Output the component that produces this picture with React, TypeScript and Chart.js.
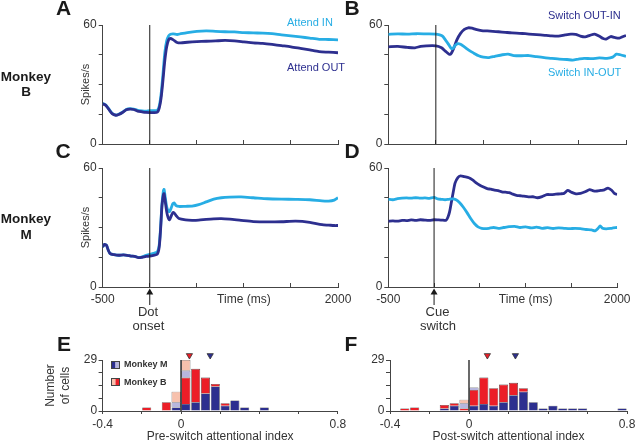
import React, { useEffect, useRef } from 'react';
import { Chart, registerables } from 'chart.js';

Chart.register(...registerables);

const FONT = '"Liberation Sans", Arial, Helvetica, sans-serif';
Chart.defaults.font.family = FONT;
Chart.defaults.color = '#333';

const LIGHT = '#27ade4';
const DARK = '#2d2f8f';
const RED = '#ec1e27';
const PINK = '#f7c1ad';
const LAVENDER = '#b7b6dd';
const AXIS = '#444';
const INK = '#1a1a1a';

// ---------- tick values / labels ----------
const timeTickValues = [-500, 0, 500, 1000, 1500, 2000];
const timeTickLabelsBottom = ['-500', '', '', 'Time (ms)', '', '2000'];
const timeTickLabelsNone = ['', '', '', '', '', ''];
const rateTickValues = [0, 15, 30, 45, 60];
const rateTickLabels = ['0', '', '', '', '60'];
const countTickValues = [0, 7.25, 14.5, 21.75, 29];
const countTickLabels = ['0', '', '', '', '29'];
const indexTickValues = [-0.4, -0.2, 0, 0.2, 0.4, 0.6, 0.8];
const indexTickLabels = ['-0.4', '', '0', '', '', '', '0.8'];

// ---------- Panel A : Monkey B, attend IN / OUT ----------
const tA = [-500, -470, -440, -400, -360, -330, -290, -250, -210, -170, -130, -80, -40, 0, 40, 80, 100, 120, 140, 160, 180, 200, 220, 250, 290, 330, 400, 500, 600, 700, 800, 900, 1000, 1100, 1200, 1300, 1400, 1500, 1600, 1700, 1800, 1900, 2000];
const attendInB = [20.5, 19.8, 18.0, 15.5, 14.6, 15.0, 16.0, 17.4, 17.8, 17.6, 17.0, 16.7, 16.6, 16.8, 16.8, 17.0, 19.0, 25.0, 35.0, 46.0, 52.0, 54.5, 55.3, 55.5, 55.2, 55.6, 56.2, 56.8, 57.0, 56.8, 56.6, 56.5, 56.2, 56.0, 55.9, 55.6, 55.0, 54.5, 54.0, 53.4, 52.8, 52.7, 52.5];
const attendOutB = [20.3, 19.6, 17.8, 15.3, 14.5, 14.9, 15.9, 17.3, 17.6, 17.4, 16.6, 16.2, 15.9, 15.8, 15.8, 16.0, 18.0, 23.0, 32.0, 42.0, 49.0, 52.5, 53.2, 52.5, 51.2, 51.0, 51.3, 51.6, 51.8, 52.0, 52.2, 52.0, 51.5, 51.0, 50.7, 50.2, 49.6, 49.0, 48.2, 47.4, 46.6, 46.3, 46.0];

// ---------- Panel B : Monkey B, switch ----------
const tB_inOut = [-500, -400, -300, -200, -100, 0, 40, 70, 100, 130, 160, 180, 200, 230, 260, 300, 350, 400, 450, 500, 560, 620, 700, 760, 820, 900, 980, 1060, 1140, 1220, 1300, 1380, 1440, 1500, 1560, 1640, 1720, 1800, 1860, 1900, 1940, 2000];
const switchInOutB = [55.3, 55.5, 55.4, 55.6, 55.5, 55.4, 55.0, 54.4, 52.5, 50.5, 48.3, 48.2, 49.5, 50.6, 50.3, 49.0, 47.2, 45.8, 44.5, 43.8, 43.6, 44.2, 45.0, 45.3, 44.6, 44.5, 44.6, 44.0, 43.5, 43.2, 42.8, 42.6, 42.3, 42.8, 43.2, 43.0, 43.4, 43.2, 43.8, 45.3, 45.0, 44.2];
const tB_outIn = [-500, -400, -300, -220, -160, -100, 0, 60, 100, 140, 160, 190, 220, 260, 300, 340, 380, 420, 480, 540, 600, 660, 730, 800, 880, 940, 1020, 1100, 1160, 1220, 1290, 1360, 1420, 1470, 1520, 1570, 1620, 1670, 1720, 1760, 1790, 1840, 1880, 1930, 1970, 2000];
const switchOutInB = [49.0, 49.2, 48.7, 48.5, 49.2, 49.5, 49.5, 48.5, 46.8, 45.3, 45.5, 48.5, 52.4, 55.8, 57.8, 58.6, 58.4, 57.8, 57.2, 57.0, 56.8, 56.6, 56.3, 56.0, 55.8, 55.6, 55.3, 55.0, 54.8, 54.5, 54.4, 55.0, 55.4, 55.3, 54.4, 54.0, 54.8, 55.4, 54.3, 53.2, 52.9, 54.2, 53.7, 53.4, 54.2, 54.7];

// ---------- Panel C : Monkey M, attend IN / OUT ----------
const tC = [-500, -480, -460, -440, -420, -380, -330, -280, -240, -200, -160, -120, -80, -40, 0, 40, 80, 100, 115, 130, 145, 152, 165, 180, 195, 210, 225, 245, 260, 280, 310, 380, 450, 520, 600, 680, 760, 850, 970, 1100, 1250, 1400, 1550, 1700, 1830, 1900, 1960, 2000];
const attendInM = [20.2, 21.5, 21.0, 18.5, 16.8, 16.3, 16.0, 16.2, 16.0, 15.6, 15.5, 14.9, 15.2, 16.0, 16.5, 17.0, 17.8, 21.0, 30.0, 42.0, 48.5, 49.2, 45.0, 40.5, 38.5, 38.0, 39.5, 42.0, 42.4, 41.0, 40.6, 40.7, 40.8, 41.5, 42.9, 44.3, 45.0, 45.3, 45.4, 45.0, 44.5, 44.3, 44.2, 44.0, 43.4, 43.3, 43.8, 45.0];
const attendOutM = [20.2, 21.5, 21.0, 18.5, 16.8, 16.3, 16.0, 16.2, 16.0, 15.6, 15.5, 14.8, 15.0, 15.4, 15.6, 16.0, 16.5, 20.0, 29.0, 41.0, 46.5, 47.1, 43.0, 38.0, 35.0, 33.8, 35.5, 37.5, 37.3, 36.0, 34.5, 33.8, 33.6, 33.7, 34.1, 34.4, 34.5, 34.2, 33.6, 33.0, 32.8, 32.9, 33.2, 32.6, 31.4, 31.2, 31.0, 31.0];

// ---------- Panel D : Monkey M, switch ----------
const tD_inOut = [-500, -450, -400, -350, -300, -250, -200, -150, -100, -50, 0, 40, 80, 120, 160, 200, 240, 280, 320, 360, 400, 440, 480, 520, 560, 600, 650, 700, 760, 820, 880, 940, 1000, 1060, 1120, 1180, 1240, 1300, 1360, 1420, 1480, 1540, 1600, 1660, 1720, 1760, 1790, 1815, 1840, 1880, 1940, 2000];
const switchInOutM = [44.2, 44.0, 44.5, 44.8, 44.9, 44.8, 45.0, 44.8, 44.9, 44.7, 45.2, 44.4, 44.2, 44.0, 44.2, 44.4, 44.0, 42.5, 40.2, 37.5, 34.5, 32.0, 30.3, 29.6, 29.4, 29.6, 30.0, 29.6, 30.0, 30.4, 30.6, 30.0, 30.3, 29.8, 30.2, 29.6, 29.9, 29.5, 29.8, 29.6, 29.4, 29.6, 29.4, 29.0, 28.8, 28.3, 29.5, 30.8, 29.6, 29.3, 29.6, 30.0];
const tD_outIn = [-500, -450, -400, -350, -300, -250, -200, -150, -100, -50, 0, 50, 100, 130, 150, 170, 190, 210, 230, 260, 290, 330, 380, 420, 460, 500, 540, 580, 620, 660, 700, 740, 780, 820, 860, 900, 940, 980, 1030, 1080, 1130, 1180, 1230, 1280, 1330, 1380, 1420, 1460, 1500, 1550, 1600, 1650, 1700, 1740, 1780, 1820, 1860, 1900, 1940, 1970, 2000];
const switchOutInM = [33.1, 33.3, 33.2, 33.6, 33.5, 33.8, 33.6, 33.9, 33.7, 33.6, 33.9, 33.8, 33.7, 33.6, 35.0, 38.0, 43.0, 48.0, 52.5, 55.2, 56.0, 55.6, 55.1, 54.0, 52.5, 51.3, 50.4, 49.6, 49.3, 48.8, 48.6, 48.0, 47.8, 47.6, 46.8, 46.2, 46.0, 45.8, 45.4, 45.5, 45.0, 45.6, 46.6, 46.6, 46.8, 47.0, 47.2, 48.7, 47.8, 47.0, 47.2, 48.0, 49.1, 48.5, 48.4, 48.7, 49.0, 49.9, 48.8, 47.2, 46.6];

// ---------- Panel E : pre-switch attentional index histogram ----------
const binWidth = 0.05;
const binStartsE = [-0.2, -0.1, -0.05, 0, 0.05, 0.1, 0.15, 0.2, 0.25, 0.3, 0.4];
const mSigE = [0, 0, 2, 4, 5, 10, 14, 3, 6, 2, 2];
const bSigE = [2, 5, 0, 15, 19, 9, 1, 1, 0, 0, 0];
const mNonE = [0, 0, 3, 4, 0, 0, 0, 0, 0, 0, 0];
const bNonE = [0, 0, 6, 6, 0, 0, 0, 0, 0, 0, 0];
const meanBE = 0.043;
const meanME = 0.149;

// ---------- Panel F : post-switch attentional index histogram ----------
const binStartsF = [-0.35, -0.3, -0.15, -0.1, -0.05, 0, 0.05, 0.1, 0.15, 0.2, 0.25, 0.3, 0.35, 0.4, 0.45, 0.5, 0.55, 0.75];
const mSigF = [0, 0, 1, 3, 0, 3, 4, 3, 5, 9, 11, 5, 1, 3, 1, 1, 1, 1];
const bSigF = [1, 2, 2, 1, 1, 9, 15, 10, 10, 7, 2, 0, 0, 0, 0, 0, 0, 0];
const mNonF = [0, 0, 0, 0, 3, 1, 0, 0, 0, 0, 0, 0, 0, 0, 0, 0, 0, 0];
const bNonF = [0, 0, 0, 0, 2, 0, 0, 0, 0, 0, 0, 0, 0, 0, 0, 0, 0, 0];
const meanBF = 0.093;
const meanMF = 0.235;
const markerLevel = 31.6;

// ---------- annotation plugin ----------
type Item =
  | { kind: 'text'; text: string; x: number; y: number; size: number; bold?: boolean; color?: string; align?: CanvasTextAlign }
  | { kind: 'arrow'; value: number }
  | { kind: 'swatch'; x: number; y: number; w: number; h: number; left: string; right: string };

function annotations(items: Item[]) {
  return {
    id: 'annotations',
    afterDraw(chart: any) {
      const ctx: CanvasRenderingContext2D = chart.ctx;
      ctx.save();
      for (const it of items) {
        if (it.kind === 'text') {
          ctx.font = `${it.bold ? 'bold ' : ''}${it.size}px ${FONT}`;
          ctx.fillStyle = it.color || INK;
          ctx.textAlign = it.align || 'center';
          ctx.textBaseline = 'middle';
          ctx.fillText(it.text, it.x, it.y);
        } else if (it.kind === 'arrow') {
          const x = chart.scales.x.getPixelForValue(it.value);
          const y0 = chart.chartArea.bottom;
          ctx.strokeStyle = INK;
          ctx.lineWidth = 1;
          ctx.beginPath();
          ctx.moveTo(x, y0 + 6);
          ctx.lineTo(x, y0 + 18);
          ctx.stroke();
          ctx.fillStyle = INK;
          ctx.beginPath();
          ctx.moveTo(x, y0 + 1.5);
          ctx.lineTo(x - 3.5, y0 + 7.5);
          ctx.lineTo(x + 3.5, y0 + 7.5);
          ctx.closePath();
          ctx.fill();
        } else if (it.kind === 'swatch') {
          ctx.fillStyle = it.left;
          ctx.fillRect(it.x, it.y, it.w / 2, it.h);
          ctx.fillStyle = it.right;
          ctx.fillRect(it.x + it.w / 2, it.y, it.w / 2, it.h);
          ctx.strokeStyle = '#444';
          ctx.lineWidth = 1;
          ctx.strokeRect(it.x + 0.5, it.y + 0.5, it.w - 1, it.h - 1);
        }
      }
      ctx.restore();
    },
  };
}

// ---------- config builders ----------
type Series = { t: number[]; v: number[]; color: string };

function timeChart(p: {
  left: number; right: number; top: number; bottom: number;
  yTitle?: string; xLabels: string[]; series: Series[]; items: Item[];
}) {
  const YW = 30;
  const XH = 25;
  return {
    type: 'line',
    data: {
      datasets: [
        ...p.series.map((s) => ({
          data: s.t.map((t, i) => ({ x: t, y: s.v[i] })),
          borderColor: s.color,
          borderWidth: 2.8,
          pointRadius: 0,
          tension: 0.25,
          fill: false,
          order: 1,
        })),
        {
          data: [{ x: 0, y: 0 }, { x: 0, y: 60 }],
          borderColor: INK,
          borderWidth: 1,
          pointRadius: 0,
          fill: false,
          order: 0,
        },
      ],
    },
    options: {
      responsive: false,
      maintainAspectRatio: false,
      animation: false,
      devicePixelRatio: 1,
      events: [],
      layout: { padding: { left: p.left - YW, right: 640 - p.right, top: p.top, bottom: 441 - p.bottom - XH } },
      plugins: { legend: { display: false }, tooltip: { enabled: false } },
      scales: {
        x: {
          type: 'linear',
          min: -500,
          max: 2000,
          afterFit: (s: any) => { s.height = XH; },
          afterBuildTicks: (s: any) => { s.ticks = timeTickValues.map((v) => ({ value: v })); },
          ticks: {
            autoSkip: false, maxRotation: 0, minRotation: 0, padding: 9.5,
            font: { size: 12 }, color: '#333',
            callback: (_v: any, i: number) => p.xLabels[i],
          },
          grid: { display: true, drawOnChartArea: false, drawTicks: true, tickLength: -4, tickColor: AXIS, tickWidth: 1 },
          border: { display: true, color: AXIS, width: 1 },
        },
        y: {
          type: 'linear',
          min: 0,
          max: 60,
          afterFit: (s: any) => { s.width = YW; },
          afterBuildTicks: (s: any) => { s.ticks = rateTickValues.map((v) => ({ value: v })); },
          ticks: {
            autoSkip: false, padding: 2, font: { size: 12 }, color: '#333',
            callback: (_v: any, i: number) => rateTickLabels[i],
          },
          grid: { display: true, drawOnChartArea: false, drawTicks: true, tickLength: 4, tickColor: AXIS, tickWidth: 1 },
          border: { display: true, color: AXIS, width: 1 },
          title: {
            display: !!p.yTitle,
            text: p.yTitle || '',
            font: { size: 11 },
            color: '#333',
            padding: { top: 6.2, bottom: 0 },
          },
        },
      },
    },
    plugins: [annotations(p.items)],
  };
}

function histChart(p: {
  left: number; right: number; top: number; bottom: number; yw: number;
  yTitle?: string[]; xTitle: string;
  bins: number[]; mSig: number[]; bSig: number[]; mNon: number[]; bNon: number[];
  meanB: number; meanM: number; items: Item[];
}) {
  const XH = 30;
  const bars = (arr: number[], color: string) => ({
    type: 'bar',
    data: p.bins
      .map((b, i) => ({ x: b + binWidth / 2, y: arr[i] }))
      .filter((d) => d.y > 0),
    backgroundColor: color,
    borderColor: '#2b2b2b',
    borderWidth: { top: 0.6, left: 0.6, right: 0.6, bottom: 0 },
    borderSkipped: false,
    minBarLength: 2.5,
    barPercentage: 0.92,
    categoryPercentage: 1,
    order: 2,
  });
  const marker = (x: number, color: string, stack: string) => ({
    type: 'line',
    data: [{ x, y: markerLevel }],
    showLine: false,
    pointStyle: 'triangle',
    pointRotation: 180,
    pointRadius: 3.6,
    pointBackgroundColor: color,
    pointBorderColor: '#333',
    pointBorderWidth: 0.8,
    clip: false,
    stack,
    order: 0,
  });
  return {
    type: 'bar',
    data: {
      datasets: [
        bars(p.mSig, DARK),
        bars(p.bSig, RED),
        bars(p.mNon, LAVENDER),
        bars(p.bNon, PINK),
        {
          type: 'line',
          data: [{ x: 0, y: 0 }, { x: 0, y: 29 }],
          borderColor: INK,
          borderWidth: 1.3,
          pointRadius: 0,
          stack: 'zero',
          order: 0,
        },
        marker(p.meanB, RED, 'meanB'),
        marker(p.meanM, DARK, 'meanM'),
      ],
    },
    options: {
      responsive: false,
      maintainAspectRatio: false,
      animation: false,
      devicePixelRatio: 1,
      events: [],
      layout: { padding: { left: p.left - p.yw, right: 640 - p.right, top: p.top, bottom: 441 - p.bottom - XH } },
      plugins: { legend: { display: false }, tooltip: { enabled: false } },
      scales: {
        x: {
          type: 'linear',
          min: -0.4,
          max: 0.8,
          stacked: true,
          offset: false,
          afterFit: (s: any) => { s.height = XH; },
          afterBuildTicks: (s: any) => { s.ticks = indexTickValues.map((v) => ({ value: v })); },
          ticks: {
            autoSkip: false, maxRotation: 0, minRotation: 0, padding: 3.8,
            font: { size: 12 }, color: '#333',
            callback: (_v: any, i: number) => indexTickLabels[i],
          },
          grid: { display: true, offset: false, drawOnChartArea: false, drawTicks: true, tickLength: 3, tickColor: AXIS, tickWidth: 1 },
          border: { display: true, color: AXIS, width: 1 },
          title: {
            display: true,
            text: p.xTitle,
            font: { size: 12, lineHeight: 1 },
            color: '#333',
            padding: { top: 0, bottom: -1.5 },
          },
        },
        y: {
          type: 'linear',
          min: 0,
          max: 29,
          stacked: true,
          afterFit: (s: any) => { s.width = p.yw; },
          afterBuildTicks: (s: any) => { s.ticks = countTickValues.map((v) => ({ value: v })); },
          ticks: {
            autoSkip: false, padding: 1.5, font: { size: 12 }, color: '#333',
            callback: (_v: any, i: number) => countTickLabels[i],
          },
          grid: { display: true, drawOnChartArea: false, drawTicks: true, tickLength: 4, tickColor: AXIS, tickWidth: 1 },
          border: { display: true, color: AXIS, width: 1 },
          title: {
            display: !!p.yTitle,
            text: p.yTitle || '',
            font: { size: 12, lineHeight: 1.25 },
            color: '#333',
            padding: { top: 0.9, bottom: 0 },
          },
        },
      },
    },
    plugins: [annotations(p.items)],
  };
}

// ---------- panel configs ----------
const configA = () =>
  timeChart({
    left: 102.7, right: 338, top: 25, bottom: 144,
    yTitle: 'Spikes/s',
    xLabels: timeTickLabelsNone,
    series: [
      { t: tA, v: attendOutB, color: DARK },
      { t: tA, v: attendInB, color: LIGHT },
    ],
    items: [
      { kind: 'text', text: 'A', x: 63.5, y: 9.5, size: 21, bold: true },
      { kind: 'text', text: 'Monkey', x: 26, y: 77.2, size: 13.5, bold: true },
      { kind: 'text', text: 'B', x: 26, y: 92.5, size: 13.5, bold: true },
      { kind: 'text', text: 'Attend IN', x: 287, y: 22.5, size: 11, color: LIGHT, align: 'left' },
      { kind: 'text', text: 'Attend OUT', x: 287, y: 67.5, size: 11, color: DARK, align: 'left' },
    ],
  });

const configB = () =>
  timeChart({
    left: 388.3, right: 626, top: 25, bottom: 144,
    xLabels: timeTickLabelsNone,
    series: [
      { t: tB_inOut, v: switchInOutB, color: LIGHT },
      { t: tB_outIn, v: switchOutInB, color: DARK },
    ],
    items: [
      { kind: 'text', text: 'B', x: 352, y: 9.5, size: 21, bold: true },
      { kind: 'text', text: 'Switch OUT-IN', x: 548, y: 16.3, size: 11, color: DARK, align: 'left' },
      { kind: 'text', text: 'Switch IN-OUT', x: 548, y: 73, size: 11, color: LIGHT, align: 'left' },
    ],
  });

const configC = () =>
  timeChart({
    left: 102.7, right: 338, top: 168, bottom: 287,
    yTitle: 'Spikes/s',
    xLabels: timeTickLabelsBottom,
    series: [
      { t: tC, v: attendOutM, color: DARK },
      { t: tC, v: attendInM, color: LIGHT },
    ],
    items: [
      { kind: 'text', text: 'C', x: 63, y: 152.5, size: 21, bold: true },
      { kind: 'text', text: 'Monkey', x: 26, y: 219.5, size: 13.5, bold: true },
      { kind: 'text', text: 'M', x: 26, y: 235, size: 13.5, bold: true },
      { kind: 'arrow', value: 0 },
      { kind: 'text', text: 'Dot', x: 148, y: 312.5, size: 13, color: '#333' },
      { kind: 'text', text: 'onset', x: 148.5, y: 326, size: 13, color: '#333' },
    ],
  });

const configD = () =>
  timeChart({
    left: 388.3, right: 626, top: 168, bottom: 287,
    xLabels: timeTickLabelsBottom,
    series: [
      { t: tD_inOut, v: switchInOutM, color: LIGHT },
      { t: tD_outIn, v: switchOutInM, color: DARK },
    ],
    items: [
      { kind: 'text', text: 'D', x: 352, y: 152.5, size: 21, bold: true },
      { kind: 'arrow', value: 0 },
      { kind: 'text', text: 'Cue', x: 437.5, y: 312.5, size: 13, color: '#333' },
      { kind: 'text', text: 'switch', x: 438, y: 326, size: 13, color: '#333' },
    ],
  });

const configE = () =>
  histChart({
    left: 102.6, right: 337.8, top: 360, bottom: 411, yw: 60,
    yTitle: ['Number', 'of cells'],
    xTitle: 'Pre-switch attentional index',
    bins: binStartsE, mSig: mSigE, bSig: bSigE, mNon: mNonE, bNon: bNonE,
    meanB: meanBE, meanM: meanME,
    items: [
      { kind: 'text', text: 'E', x: 64, y: 345.5, size: 21, bold: true },
      { kind: 'swatch', x: 111, y: 361, w: 9, h: 8, left: DARK, right: LAVENDER },
      { kind: 'text', text: 'Monkey M', x: 124, y: 365, size: 9, bold: true, color: '#333', align: 'left' },
      { kind: 'swatch', x: 111, y: 378, w: 9, h: 8, left: PINK, right: RED },
      { kind: 'text', text: 'Monkey B', x: 124, y: 382.5, size: 9, bold: true, color: '#333', align: 'left' },
    ],
  });

const configF = () =>
  histChart({
    left: 390, right: 627, top: 360, bottom: 411, yw: 30,
    xTitle: 'Post-switch attentional index',
    bins: binStartsF, mSig: mSigF, bSig: bSigF, mNon: mNonF, bNon: bNonF,
    meanB: meanBF, meanM: meanMF,
    items: [{ kind: 'text', text: 'F', x: 351, y: 345.5, size: 21, bold: true }],
  });

function ChartLayer({ make }: { make: () => any }) {
  const ref = useRef<HTMLCanvasElement>(null);
  useEffect(() => {
    if (!ref.current) return;
    const chart = new Chart(ref.current, make());
    return () => chart.destroy();
  }, [make]);
  return (
    <canvas
      ref={ref}
      width={640}
      height={441}
      style={{ position: 'absolute', left: 0, top: 0, width: 640, height: 441 }}
    />
  );
}

export default function App() {
  return (
    <div
      style={{
        position: 'absolute', left: 0, top: 0, width: 640, height: 441,
        background: '#fff', overflow: 'hidden', fontFamily: FONT,
      }}
    >
      <ChartLayer make={configA} />
      <ChartLayer make={configB} />
      <ChartLayer make={configC} />
      <ChartLayer make={configD} />
      <ChartLayer make={configE} />
      <ChartLayer make={configF} />
    </div>
  );
}
